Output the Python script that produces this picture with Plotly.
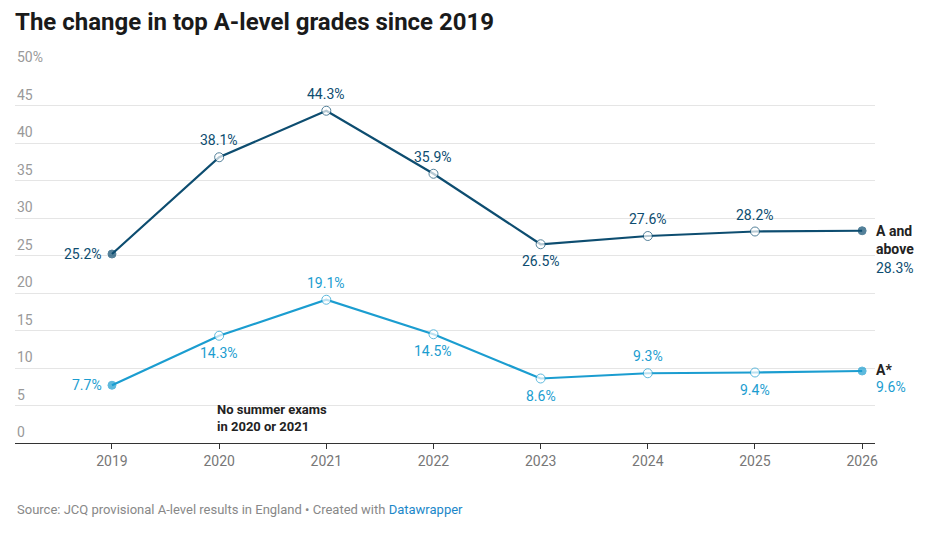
import plotly.graph_objects as go

# Data
years = [2019, 2020, 2021, 2022, 2023, 2024, 2025, 2026]
a_and_above = [25.2, 38.1, 44.3, 35.9, 26.5, 27.6, 28.2, 28.3]
a_star = [7.7, 14.3, 19.1, 14.5, 8.6, 9.3, 9.4, 9.6]
a_pos = ['left', 'above', 'above', 'above', 'below', 'above', 'above', 'end']
s_pos = ['left', 'below', 'above', 'below', 'below', 'above', 'below', 'end']
y_ticks = [0, 5, 10, 15, 20, 25, 30, 35, 40, 45, 50]

DARK = '#0d4d70'
LIGHT = '#1b9dd0'
FONT = 'Roboto'

fig = go.Figure()


def add_series(values, color, positions, name):
    n = len(values)
    fill = [color if i in (0, n - 1) else 'white' for i in range(n)]
    fig.add_trace(go.Scatter(
        x=years, y=values, mode='lines+markers', name=name,
        line=dict(color=color, width=2.2),
        marker=dict(symbol='circle', size=[8 if f == color else 9 for f in fill],
                    color=fill, line=dict(color=color, width=1)),
        hoverinfo='skip'))
    for x, v, p in zip(years, values, positions):
        label = f"{v:.1f}%"
        f = dict(color=color, size=14, family=FONT)
        if p == 'left':
            fig.add_annotation(x=x, y=v, text=label, showarrow=False, xanchor='right',
                               xshift=-8, font=f)
        elif p == 'above':
            fig.add_annotation(x=x, y=v, text=label, showarrow=False, yanchor='bottom',
                               yshift=7, font=f)
        elif p == 'below':
            fig.add_annotation(x=x, y=v, text=label, showarrow=False, yanchor='top',
                               yshift=-7, font=f)
        else:
            shift = -27 if name == 'A and above' else -6
            fig.add_annotation(x=x, y=v, text=label, showarrow=False, xanchor='left',
                               yanchor='top', xshift=12, yshift=shift, font=f)


add_series(a_and_above, DARK, a_pos, 'A and above')
add_series(a_star, LIGHT, s_pos, 'A*')

fig.add_annotation(x=years[-1], y=a_and_above[-1], text='<b>A and<br>above</b>', showarrow=False,
                   xanchor='left', yanchor='top', xshift=12, yshift=10, align='left',
                   font=dict(color='#222', size=14, family=FONT))
fig.add_annotation(x=years[-1], y=a_star[-1], text='<b>A*</b>', showarrow=False,
                   xanchor='left', yanchor='middle', xshift=12, yshift=1, align='left',
                   font=dict(color='#222', size=14, family=FONT))
fig.add_annotation(x=2020, y=1.0, text='<b>No summer exams<br>in 2020 or 2021</b>', showarrow=False,
                   xanchor='left', yanchor='bottom', xshift=-4, align='left',
                   font=dict(color='#222', size=13, family=FONT))

# y tick labels sit above the gridlines
for t in y_ticks:
    fig.add_annotation(xref='paper', x=0, y=t, text=f"{t}%" if t == 50 else str(t),
                       showarrow=False, xanchor='left', yanchor='bottom', yshift=1,
                       font=dict(color='#999', size=14, family=FONT))

fig.update_layout(
    width=927, height=527,
    margin=dict(l=7, r=60, t=60, b=92),
    plot_bgcolor='white', paper_bgcolor='white',
    showlegend=False,
    font=dict(family=FONT),
    title=dict(text='<b>The change in top A-level grades since 2019</b>', x=0.0076, xanchor='left',
               y=0.975, yanchor='middle', font=dict(size=24, color='#1a1a1a', family=FONT)),
    xaxis=dict(range=[2018.095, 2026.12], tickvals=years, showgrid=False, zeroline=False,
               showline=True, linecolor='#333', linewidth=1, ticks='outside', ticklen=5,
               tickcolor='#333', tickfont=dict(color='#777', size=14), fixedrange=True),
    yaxis=dict(range=[0, 50], tickvals=y_ticks, showticklabels=False, gridcolor='#e5e5e5',
               zeroline=False, fixedrange=True),
)

fig.add_annotation(xref='paper', yref='paper', x=0, y=-0.176, xanchor='left', yanchor='middle',
                   showarrow=False, align='left',
                   text="Source: JCQ provisional A-level results in England • Created with "
                        "<span style='color:#1b87c9'>Datawrapper</span>",
                   font=dict(color='#888', size=13, family=FONT))

fig.write_html("out.html")
